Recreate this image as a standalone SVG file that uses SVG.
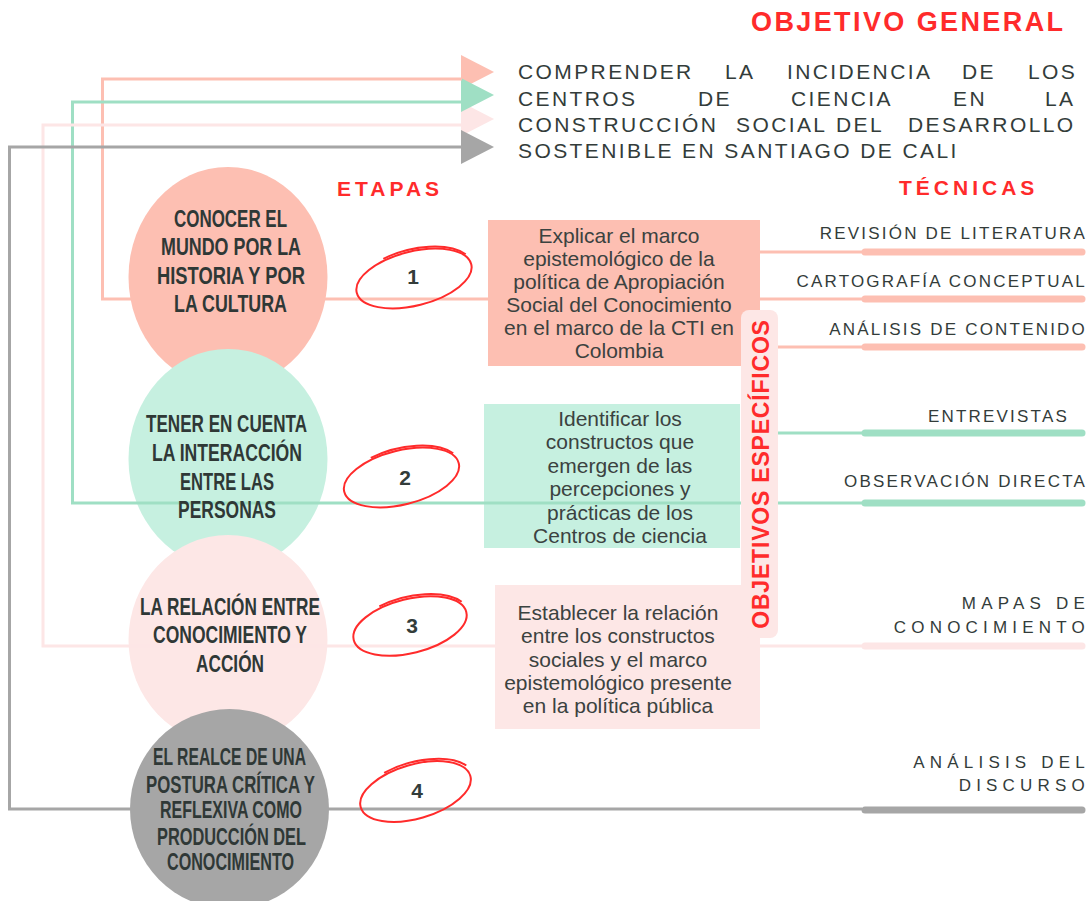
<svg xmlns="http://www.w3.org/2000/svg" width="1089" height="901" viewBox="0 0 1089 901">
<style>
.circ{font-family:"Liberation Sans Narrow","Liberation Sans",Roboto,sans-serif;font-weight:bold;font-size:23px;fill:#2f3836;text-anchor:middle}
.box{font-family:"Liberation Sans",Arial,sans-serif;font-size:21px;fill:#3b4240;text-anchor:middle}
.head{font-family:"Liberation Sans",Arial,sans-serif;font-weight:bold;fill:#ff2b2b}
.gen{font-family:"Liberation Sans",Arial,sans-serif;font-size:21px;fill:#333c3a;letter-spacing:2.4px}
.tec{font-family:"Liberation Sans",Arial,sans-serif;font-size:17px;fill:#333c3a;text-anchor:end;letter-spacing:2.2px}
.tecw{font-family:"Liberation Sans",Arial,sans-serif;font-size:17px;fill:#333c3a;text-anchor:end;letter-spacing:5.2px}
.num{font-family:"Liberation Sans",Arial,sans-serif;font-weight:bold;font-size:21px;fill:#333c3a;text-anchor:middle}
.ring{fill:none;stroke:#ff2b2b;stroke-width:2}
.ln{fill:none;stroke-width:3}
.bar{fill:none;stroke-width:7;stroke-linecap:round}
.sal{stroke:#fdbfb2}.grn{stroke:#9fdfc4}.pnk{stroke:#fde6e6}.gry{stroke:#a6a6a6}
</style>

<g id="titles">
<text class="head" x="751" y="31" font-size="27" letter-spacing="2.4">OBJETIVO GENERAL</text>
<text class="head" x="337" y="196" font-size="21" letter-spacing="4">ETAPAS</text>
<text class="head" x="899" y="195" font-size="21" letter-spacing="4">TÉCNICAS</text>
</g>

<g id="objetivo-general">
<text class="gen" y="79"><tspan x="518">COMPRENDER</tspan><tspan x="725">LA</tspan><tspan x="787">INCIDENCIA</tspan><tspan x="962">DE</tspan><tspan x="1028">LOS</tspan></text>
<text class="gen" y="106"><tspan x="518">CENTROS</tspan><tspan x="698">DE</tspan><tspan x="791">CIENCIA</tspan><tspan x="953">EN</tspan><tspan x="1045">LA</tspan></text>
<text class="gen" y="132"><tspan x="518">CONSTRUCCIÓN</tspan><tspan x="736">SOCIAL</tspan><tspan x="836">DEL</tspan><tspan x="908">DESARROLLO</tspan></text>
<text class="gen" x="518" y="158">SOSTENIBLE EN SANTIAGO DE CALI</text>
</g>

<g id="etapa1">
<ellipse cx="228" cy="277" rx="99.5" ry="110" fill="#fdbfb2"/>
</g>
<g id="etapa2">
<ellipse cx="228" cy="459" rx="99.5" ry="110" fill="#c6f0e0"/>
</g>
<g id="etapa3">
<ellipse cx="228" cy="640" rx="99.5" ry="105" fill="#fde7e6"/>
</g>
<g id="etapa4">
<ellipse cx="229.5" cy="809" rx="99.5" ry="100" fill="#a6a6a6"/>
</g>

<g id="objetivo1">
<rect x="488" y="220" width="272" height="146" fill="#fdbfb2"/>
</g>
<g id="objetivo2">
<rect x="484" y="404" width="256" height="144" fill="#c6f0e0"/>
</g>
<g id="objetivo3">
<rect x="495" y="585" width="265" height="144" fill="#fde7e6"/>
</g>

<g id="connectors">
<!-- arrowheads -->
<polygon points="461,102 494,119 461,136" fill="#fde6e6"/>
<polygon points="461,55 494,72 461,89" fill="#fdbfb2"/>
<polygon points="461,78 494,95 461,112" fill="#9fdfc4"/>
<polygon points="461,130 494,147 461,164" fill="#a6a6a6"/>
<!-- return lines -->
<polyline class="ln sal" points="462,79 102.5,79 102.5,299 488,299"/>
<polyline class="ln grn" points="462,102 72.5,102 72.5,503 862,503"/>
<polyline class="ln pnk" points="462,125 43,125 43,646 495,646"/>
<polyline class="ln gry" points="462,147 9.5,147 9.5,809 862,809"/>
<!-- to techniques -->
<line class="ln sal" x1="760" y1="252" x2="862" y2="252"/>
<line class="ln sal" x1="760" y1="299" x2="862" y2="299"/>
<line class="ln sal" x1="778" y1="347" x2="862" y2="347"/>
<line class="ln grn" x1="778" y1="433" x2="862" y2="433"/>
<line class="ln pnk" x1="760" y1="646" x2="862" y2="646"/>
<line class="bar sal" x1="865" y1="252" x2="1082" y2="252"/>
<line class="bar sal" x1="865" y1="299" x2="1082" y2="299"/>
<line class="bar sal" x1="865" y1="347" x2="1082" y2="347"/>
<line class="bar grn" x1="865" y1="433" x2="1082" y2="433"/>
<line class="bar grn" x1="865" y1="503" x2="1082" y2="503"/>
<line class="bar pnk" x1="865" y1="646" x2="1082" y2="646"/>
<line class="bar gry" x1="865" y1="810" x2="1082" y2="810"/>
</g>

<g id="objetivos-especificos">
<rect x="741" y="310" width="37" height="328" rx="8" fill="#fde7e6"/>
<text class="head" font-size="23" letter-spacing="0.8" text-anchor="middle" transform="translate(769 474) rotate(-90)">OBJETIVOS ESPECÍFICOS</text>
</g>

<g id="etapa-labels">
<text class="circ" x="230.5" y="227" textLength="113" lengthAdjust="spacingAndGlyphs">CONOCER EL</text>
<text class="circ" x="231" y="255" textLength="140" lengthAdjust="spacingAndGlyphs">MUNDO POR LA</text>
<text class="circ" x="231" y="284" textLength="148" lengthAdjust="spacingAndGlyphs">HISTORIA Y POR</text>
<text class="circ" x="230.5" y="312" textLength="113" lengthAdjust="spacingAndGlyphs">LA CULTURA</text>

<text class="circ" x="226.5" y="432" textLength="161" lengthAdjust="spacingAndGlyphs">TENER EN CUENTA</text>
<text class="circ" x="227" y="461" textLength="150" lengthAdjust="spacingAndGlyphs">LA INTERACCIÓN</text>
<text class="circ" x="227" y="490" textLength="94" lengthAdjust="spacingAndGlyphs">ENTRE LAS</text>
<text class="circ" x="227" y="518" textLength="98" lengthAdjust="spacingAndGlyphs">PERSONAS</text>

<text class="circ" x="230" y="615" textLength="180" lengthAdjust="spacingAndGlyphs">LA RELACIÓN ENTRE</text>
<text class="circ" x="230" y="643" textLength="154" lengthAdjust="spacingAndGlyphs">CONOCIMIENTO Y</text>
<text class="circ" x="230" y="672" textLength="68" lengthAdjust="spacingAndGlyphs">ACCIÓN</text>

<text class="circ" x="229.5" y="765" textLength="153" lengthAdjust="spacingAndGlyphs">EL REALCE DE UNA</text>
<text class="circ" x="230.5" y="793" textLength="169" lengthAdjust="spacingAndGlyphs">POSTURA CRÍTICA Y</text>
<text class="circ" x="231" y="818" textLength="142" lengthAdjust="spacingAndGlyphs">REFLEXIVA COMO</text>
<text class="circ" x="231.5" y="845" textLength="149" lengthAdjust="spacingAndGlyphs">PRODUCCIÓN DEL</text>
<text class="circ" x="230.5" y="870" textLength="127" lengthAdjust="spacingAndGlyphs">CONOCIMIENTO</text>
</g>

<g id="objetivo-labels">
<text class="box" x="619" y="243">Explicar el marco</text>
<text class="box" x="619" y="266">epistemológico de la</text>
<text class="box" x="619" y="289">política de Apropiación</text>
<text class="box" x="619" y="312">Social del Conocimiento</text>
<text class="box" x="619" y="335">en el marco de la CTI en</text>
<text class="box" x="619" y="358">Colombia</text>

<text class="box" x="620" y="426">Identificar los</text>
<text class="box" x="620" y="449">constructos que</text>
<text class="box" x="620" y="473">emergen de las</text>
<text class="box" x="620" y="496">percepciones y</text>
<text class="box" x="620" y="520">prácticas de los</text>
<text class="box" x="620" y="543">Centros de ciencia</text>

<text class="box" x="618" y="620">Establecer la relación</text>
<text class="box" x="618" y="643">entre los constructos</text>
<text class="box" x="618" y="667">sociales y el marco</text>
<text class="box" x="618" y="690">epistemológico presente</text>
<text class="box" x="618" y="713">en la política pública</text>
</g>

<g id="numeros">
<g transform="translate(414 278.5) rotate(-14)"><ellipse class="ring" rx="59" ry="27"/><path class="ring" d="M-25,-26.5 A60 29.5 0 0 1 56,-11"/></g>
<text class="num" x="413" y="284">1</text>
<g transform="translate(401.5 477.5) rotate(-14)"><ellipse class="ring" rx="59" ry="27"/><path class="ring" d="M-25,-26.5 A60 29.5 0 0 1 56,-11"/></g>
<text class="num" x="405" y="485">2</text>
<g transform="translate(410 626) rotate(-14)"><ellipse class="ring" rx="58" ry="27"/><path class="ring" d="M-25,-26.5 A60 29.5 0 0 1 56,-11"/></g>
<text class="num" x="412" y="633">3</text>
<g transform="translate(415.5 791.5) rotate(-16)"><ellipse class="ring" rx="57" ry="27"/><path class="ring" d="M-25,-26.5 A60 29.5 0 0 1 56,-11"/></g>
<text class="num" x="417" y="798">4</text>
</g>

<g id="tecnicas">
<text class="tec" x="1087" y="239">REVISIÓN DE LITERATURA</text>
<text class="tec" x="1087" y="287">CARTOGRAFÍA CONCEPTUAL</text>
<text class="tec" x="1087" y="335">ANÁLISIS DE CONTENIDO</text>
<text class="tec" x="1069" y="422">ENTREVISTAS</text>
<text class="tec" x="1087" y="487">OBSERVACIÓN DIRECTA</text>
<text class="tecw" x="1090" y="609">MAPAS DE</text>
<text class="tecw" x="1090" y="633">CONOCIMIENTO</text>
<text class="tecw" x="1090" y="768">ANÁLISIS DEL</text>
<text class="tecw" x="1090" y="791">DISCURSO</text>
</g>
</svg>
